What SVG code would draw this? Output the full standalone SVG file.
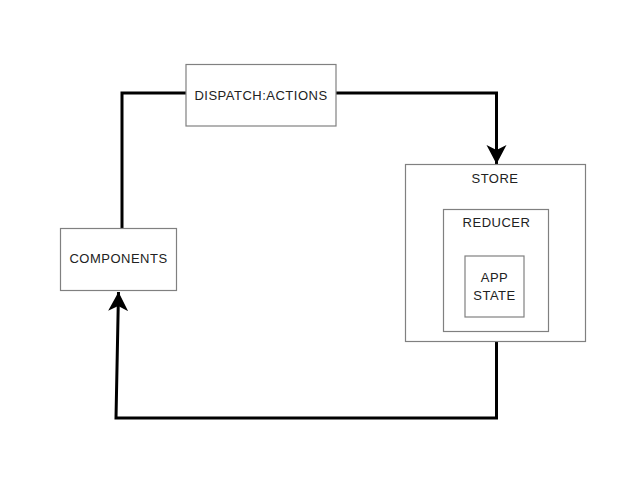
<svg xmlns="http://www.w3.org/2000/svg" width="618" height="495" viewBox="0 0 618 495">
<style>
.box{fill:#fff;stroke:#808080;stroke-width:1.2}
.lbl{font-family:"Liberation Sans",Arial,sans-serif;font-size:13px;letter-spacing:0.5px;fill:#222;text-anchor:middle}
.conn{fill:none;stroke:#000;stroke-width:3;stroke-linejoin:miter}
</style>
<defs>
<marker id="arr" markerUnits="userSpaceOnUse" markerWidth="22" markerHeight="22" viewBox="0 0 22 22" refX="19" refY="11" orient="auto">
<path d="M0,1 L19,11 L0,21 L5,11 Z" fill="#000"/>
</marker>
</defs>
<rect width="618" height="495" fill="#fff"/>
<g id="connectors">
<path class="conn" d="M186,93 L122,93 L122,228"/>
<path class="conn" d="M336,93 L496.5,93 L496.5,164" marker-end="url(#arr)"/>
<path class="conn" d="M496.5,342 L496.5,418 L116,418 L118.5,292" marker-end="url(#arr)"/>
</g>
<g id="dispatch">
<rect class="box" x="186" y="64.5" width="150" height="61.5"/>
<text class="lbl" x="261" y="99.5">DISPATCH:ACTIONS</text>
</g>
<g id="store">
<rect class="box" x="405.5" y="164.5" width="180" height="177"/>
<text class="lbl" x="495" y="182.5">STORE</text>
</g>
<g id="reducer">
<rect class="box" x="443.5" y="209.5" width="105" height="122"/>
<text class="lbl" x="496.5" y="227">REDUCER</text>
</g>
<g id="appstate">
<rect class="box" x="465" y="256" width="59" height="61"/>
<text class="lbl" x="494.5" y="281.5">APP</text>
<text class="lbl" x="494.5" y="300">STATE</text>
</g>
<g id="components">
<rect class="box" x="60.5" y="228.5" width="116" height="62"/>
<text class="lbl" x="118.5" y="262.5">COMPONENTS</text>
</g>
</svg>
